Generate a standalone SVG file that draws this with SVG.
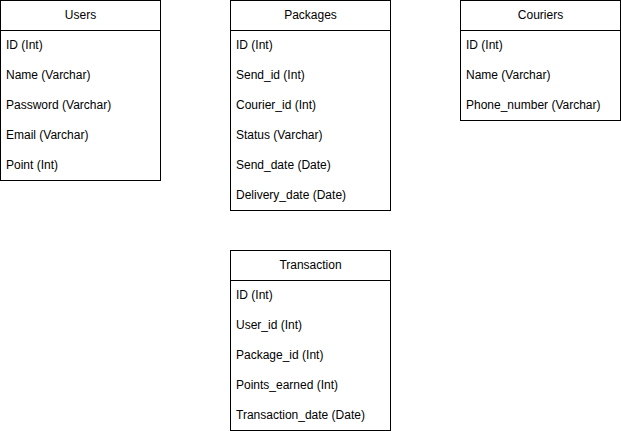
<svg xmlns="http://www.w3.org/2000/svg" width="621" height="431" viewBox="0 0 621 431">
<style>
.box{fill:#ffffff;stroke:#000000;stroke-width:1}
.sep{stroke:#000000;stroke-width:1}
text{font-family:"Liberation Sans",Arial,Helvetica,sans-serif;font-size:12px;fill:#000000}
.h{text-anchor:middle}
</style>
<rect width="621" height="431" fill="#ffffff"/>
<g id="users">
<rect class="box" x="0.5" y="0.5" width="160" height="180"/>
<line class="sep" x1="0.5" y1="30.5" x2="160.5" y2="30.5"/>
<text class="h" x="80.5" y="19">Users</text>
<text x="6" y="49">ID (Int)</text>
<text x="6" y="79">Name (Varchar)</text>
<text x="6" y="109">Password (Varchar)</text>
<text x="6" y="139">Email (Varchar)</text>
<text x="6" y="169">Point (Int)</text>
</g>
<g id="packages">
<rect class="box" x="230.5" y="0.5" width="160" height="210"/>
<line class="sep" x1="230.5" y1="30.5" x2="390.5" y2="30.5"/>
<text class="h" x="310.5" y="19">Packages</text>
<text x="236" y="49">ID (Int)</text>
<text x="236" y="79">Send_id (Int)</text>
<text x="236" y="109">Courier_id (Int)</text>
<text x="236" y="139">Status (Varchar)</text>
<text x="236" y="169">Send_date (Date)</text>
<text x="236" y="199">Delivery_date (Date)</text>
</g>
<g id="couriers">
<rect class="box" x="460.5" y="0.5" width="160" height="120"/>
<line class="sep" x1="460.5" y1="30.5" x2="620.5" y2="30.5"/>
<text class="h" x="540.5" y="19">Couriers</text>
<text x="466" y="49">ID (Int)</text>
<text x="466" y="79">Name (Varchar)</text>
<text x="466" y="109">Phone_number (Varchar)</text>
</g>
<g id="transaction">
<rect class="box" x="230.5" y="250.5" width="160" height="180"/>
<line class="sep" x1="230.5" y1="280.5" x2="390.5" y2="280.5"/>
<text class="h" x="310.5" y="269">Transaction</text>
<text x="236" y="299">ID (Int)</text>
<text x="236" y="329">User_id (Int)</text>
<text x="236" y="359">Package_id (Int)</text>
<text x="236" y="389">Points_earned (Int)</text>
<text x="236" y="419">Transaction_date (Date)</text>
</g>
<g id="connectors"></g>
</svg>
